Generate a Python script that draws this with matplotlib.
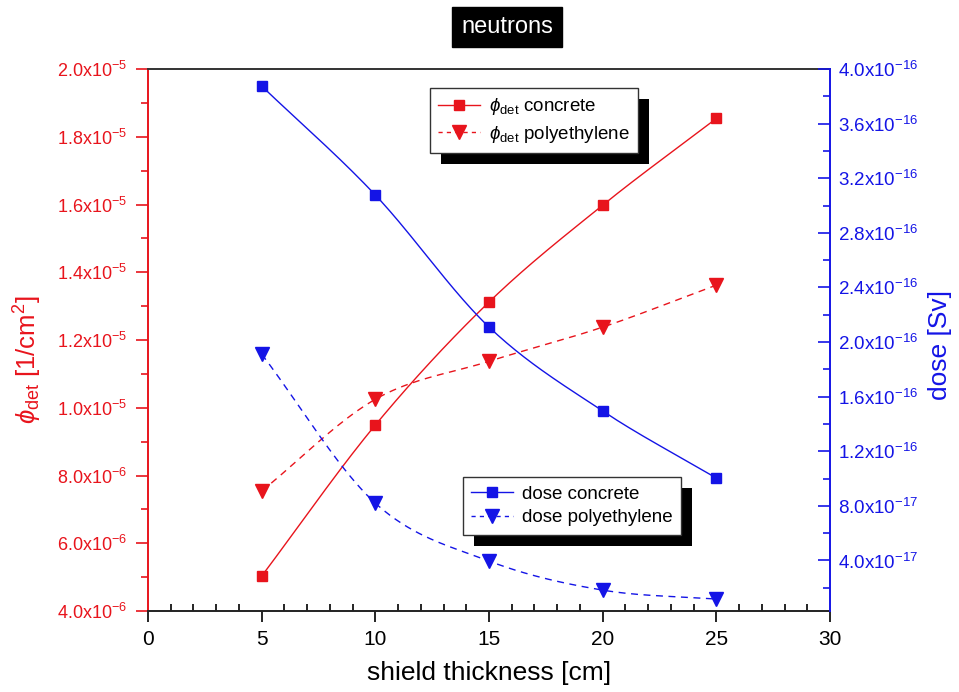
import numpy as np
import matplotlib
matplotlib.use('Agg')
import matplotlib.pyplot as plt
from matplotlib.ticker import FixedLocator, FuncFormatter
from matplotlib.patches import Rectangle
from matplotlib.transforms import IdentityTransform
from matplotlib.lines import Line2D

# ---------------- data ----------------
thickness = [5, 10, 15, 20, 25]
phi_concrete = [5.03e-6, 9.49e-6, 13.12e-6, 15.98e-6, 18.54e-6]
phi_poly = [7.54e-6, 10.25e-6, 11.37e-6, 12.38e-6, 13.62e-6]
dose_concrete = [3.875e-16, 3.077e-16, 2.11e-16, 1.495e-16, 1.004e-16]
dose_poly = [1.912e-16, 8.2e-17, 3.96e-17, 1.83e-17, 1.17e-17]

left_ticks = [4e-6, 6e-6, 8e-6, 1.0e-5, 1.2e-5, 1.4e-5, 1.6e-5, 1.8e-5, 2.0e-5]
right_ticks = [4e-17, 8e-17, 1.2e-16, 1.6e-16, 2.0e-16, 2.4e-16, 2.8e-16, 3.2e-16, 3.6e-16, 4.0e-16]

RED = '#e8141c'
BLUE = '#1414e6'

plt.rcParams['mathtext.fontset'] = 'custom'
plt.rcParams['mathtext.rm'] = 'Liberation Sans'
plt.rcParams['mathtext.it'] = 'Liberation Sans:italic'
plt.rcParams['mathtext.default'] = 'regular'
NARROW = ['Liberation Sans Narrow', 'Liberation Sans', 'DejaVu Sans']
SANS = ['Liberation Sans', 'DejaVu Sans']


def smooth(x, y, n=40):
    """Cubic Hermite curve through the points (Catmull-Rom tangents)."""
    x = np.asarray(x, float)
    y = np.asarray(y, float)
    m = len(x)
    t = np.zeros(m)
    t[0] = (y[1] - y[0]) / (x[1] - x[0])
    t[-1] = (y[-1] - y[-2]) / (x[-1] - x[-2])
    for i in range(1, m - 1):
        t[i] = (y[i + 1] - y[i - 1]) / (x[i + 1] - x[i - 1])
    xs_all, ys_all = [], []
    for i in range(m - 1):
        h = x[i + 1] - x[i]
        s = np.linspace(0, 1, n)
        h00 = 2 * s ** 3 - 3 * s ** 2 + 1
        h10 = s ** 3 - 2 * s ** 2 + s
        h01 = -2 * s ** 3 + 3 * s ** 2
        h11 = s ** 3 - s ** 2
        xs_all.append(x[i] + s * h)
        ys_all.append(h00 * y[i] + h10 * h * t[i] + h01 * y[i + 1] + h11 * h * t[i + 1])
    return np.concatenate(xs_all), np.concatenate(ys_all)


def sci(v, pos=None):
    if v <= 0:
        return ''
    e = int(np.floor(np.log10(v) + 1e-9))
    mant = v / 10 ** e
    return f'{mant:.1f}x10$^{{{e}}}$'


fig = plt.figure(figsize=(9.59, 6.92), dpi=100)
ax = fig.add_axes([148 / 959, 1 - 611 / 692, (830 - 148) / 959, (611 - 69) / 692])
ax2 = ax.twinx()

lw = 1.0
DASH = (0, (5, 4))
xs, ys = smooth(thickness, phi_concrete)
ax.plot(xs, ys, color=RED, lw=lw)
ax.plot(thickness, phi_concrete, 's', color=RED, ms=7.5)
xs, ys = smooth(thickness, phi_poly)
ax.plot(xs, ys, color=RED, lw=lw, ls=DASH)
ax.plot(thickness, phi_poly, 'v', color=RED, ms=10)

xs, ys = smooth(thickness, dose_concrete)
ax2.plot(xs, ys, color=BLUE, lw=lw)
ax2.plot(thickness, dose_concrete, 's', color=BLUE, ms=7.5)
xs, ys = smooth(thickness, dose_poly)
ax2.plot(xs, ys, color=BLUE, lw=lw, ls=DASH)
ax2.plot(thickness, dose_poly, 'v', color=BLUE, ms=10)

ax.set_xlim(0, 30)
ax.set_ylim(4e-6, 2e-5)
ax2.set_ylim(3e-18, 4e-16)

ax.xaxis.set_major_locator(FixedLocator(np.arange(0, 31, 5)))
ax.xaxis.set_minor_locator(FixedLocator(np.arange(0, 31, 1)))
ax.yaxis.set_major_locator(FixedLocator(left_ticks))
ax.yaxis.set_minor_locator(FixedLocator(np.arange(4, 21, 1) * 1e-6))
ax.yaxis.set_major_formatter(FuncFormatter(sci))
ax2.yaxis.set_major_locator(FixedLocator(right_ticks))
ax2.yaxis.set_minor_locator(FixedLocator(np.arange(1, 21, 1) * 2e-17))
ax2.yaxis.set_major_formatter(FuncFormatter(sci))

ax.tick_params(axis='x', which='major', direction='out', length=8, width=1.2,
               labelsize=15, pad=6, colors='black')
ax.tick_params(axis='x', which='minor', direction='in', length=5, width=1.2)
ax.tick_params(axis='y', which='major', direction='out', length=9, width=1.2,
               labelsize=13, colors=RED, pad=6)
ax.tick_params(axis='y', which='minor', direction='out', length=5, width=1.2, colors=RED)
ax2.tick_params(axis='y', which='major', direction='in', length=9, width=1.2,
                labelsize=13.5, colors=BLUE, pad=6)
ax2.tick_params(axis='y', which='minor', direction='in', length=5, width=1.2, colors=BLUE)

for lab in ax.get_xticklabels() + ax.get_yticklabels() + ax2.get_yticklabels():
    lab.set_family(NARROW)

ax.spines['left'].set_color(RED)
ax.spines['bottom'].set_color('#222222')
ax.spines['top'].set_color('#333333')
ax.spines['right'].set_visible(False)
for s in ['left', 'top', 'bottom']:
    ax2.spines[s].set_visible(False)
ax2.spines['right'].set_color(BLUE)
for sp in list(ax.spines.values()) + list(ax2.spines.values()):
    sp.set_linewidth(1.4)

ax.set_xlabel('shield thickness [cm]', fontsize=19, family=NARROW, labelpad=8)
fig.text(28 / 959, 1 - 360 / 692, r'$\mathit{\phi}_{det}$ [1/cm$^2$]', color=RED,
         fontsize=18.5, family=NARROW, rotation=90, ha='center', va='center')
fig.text(940 / 959, 1 - 345 / 692, 'dose [Sv]', color=BLUE, fontsize=19,
         family=NARROW, rotation=90, ha='center', va='center')

fig.text(507 / 959, 1 - 27 / 692, 'neutrons', color='white', fontsize=17,
         family=SANS, ha='center', va='center',
         bbox=dict(boxstyle='square,pad=0.4', fc='black', ec='black'))

h1 = [Line2D([], [], color=RED, lw=lw, marker='s', ms=7.5),
      Line2D([], [], color=RED, lw=lw, ls=(0, (3, 3)), marker='v', ms=10)]
h2 = [Line2D([], [], color=BLUE, lw=lw, marker='s', ms=7.5),
      Line2D([], [], color=BLUE, lw=lw, ls=(0, (3, 3)), marker='v', ms=10)]
legkw = dict(loc='upper left', bbox_transform=fig.transFigure, borderaxespad=0,
             fancybox=False, framealpha=1, edgecolor='#333333',
             handlelength=2.2, handletextpad=0.5, labelspacing=0.35,
             borderpad=0.45, prop={'family': SANS, 'size': 13.5})
leg1 = ax2.legend(h1, [r'$\mathit{\phi}_{det}$ concrete', r'$\mathit{\phi}_{det}$ polyethylene'],
                  bbox_to_anchor=(430 / 959, 1 - 88 / 692), **legkw)
ax2.add_artist(leg1)
leg2 = ax2.legend(h2, ['dose concrete', 'dose polyethylene'],
                  bbox_to_anchor=(463 / 959, 1 - 477 / 692), **legkw)
for lg in (leg1, leg2):
    lg.get_frame().set_linewidth(1.0)
    lg.set_zorder(10)

fig.canvas.draw()
for lg in (leg1, leg2):
    bb = lg.get_window_extent()
    r = Rectangle((bb.x0 + 11, bb.y0 - 11), bb.width, bb.height,
                  transform=IdentityTransform(), facecolor='black',
                  edgecolor='none', zorder=9.5, clip_on=False)
    ax2.add_artist(r)

fig.savefig('out.png', dpi=100)
